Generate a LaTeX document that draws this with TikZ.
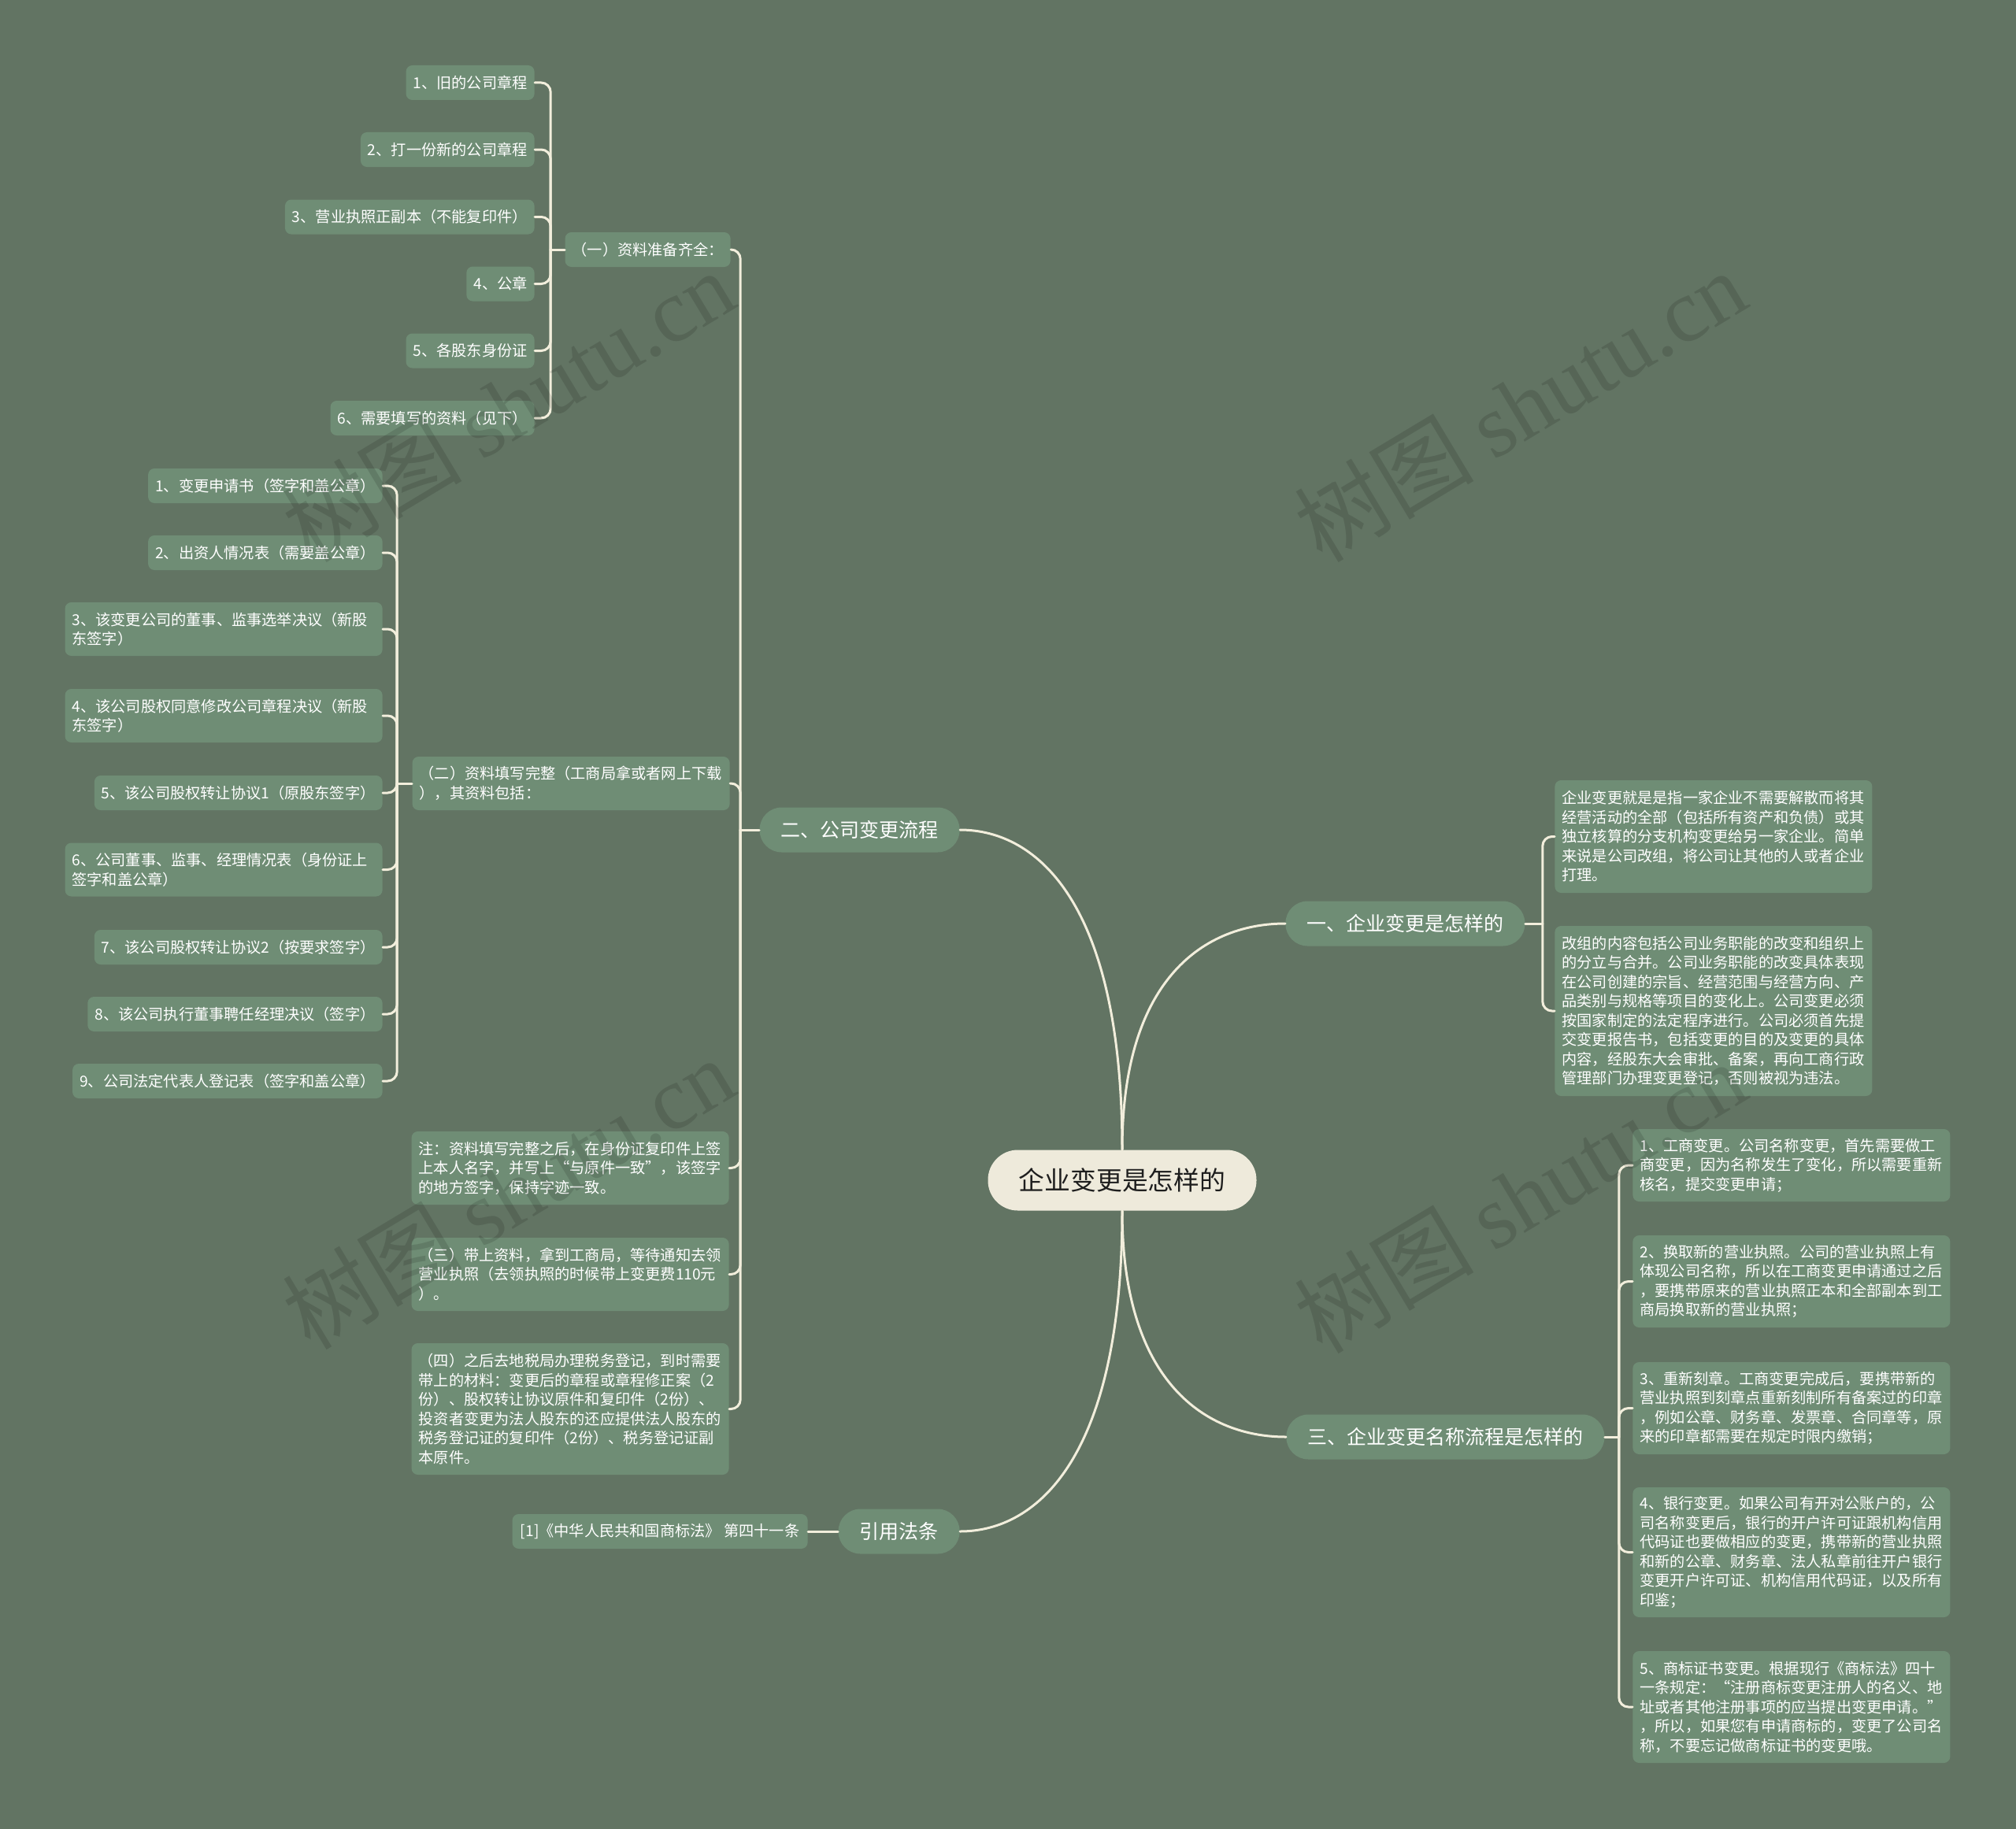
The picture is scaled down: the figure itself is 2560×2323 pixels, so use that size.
\documentclass[tikz,border=0pt]{standalone}
\usepackage{fontspec}
\setmainfont{Noto Sans CJK SC}
\newfontfamily\wmfont{Liberation Serif}
\setlength{\parindent}{0pt}
\definecolor{bgc}{HTML}{627463}
\definecolor{nodec}{HTML}{6F8D75}
\definecolor{linec}{HTML}{F2EEDC}
\definecolor{rootc}{HTML}{EEEADB}
\definecolor{roottext}{HTML}{1E1E1E}
\newcommand{\leaffont}{\fontsize{9.6pt}{12.25pt}\selectfont}
\tikzset{
  leaf/.style={fill=nodec, text=white, rounded corners=4pt, inner xsep=4.5pt, inner ysep=1pt, font=\leaffont, minimum height=22pt},
  para/.style={leaf, text width=192.5pt, align=left},
  branch/.style={fill=nodec, text=white, rounded corners=14pt, inner xsep=13.5pt, inner ysep=1pt, minimum height=28.5pt, font=\fontsize{12.5pt}{15pt}\selectfont},
  rootnode/.style={fill=rootc, text=roottext, rounded corners=19pt, minimum width=170.5pt, minimum height=38.5pt, font=\fontsize{16.4pt}{20pt}\selectfont},
  link/.style={draw=linec, line width=1.5pt, line cap=round},
  brk/.style={link, rounded corners=6pt},
  wm/.style={text=black, opacity=0.12, text opacity=0.12, rotate=31, inner sep=0pt, font=\fontsize{57pt}{57pt}\selectfont}
}
\begin{document}
\begin{tikzpicture}[x=0.5pt,y=-0.5pt]
\fill[bgc] (0,0) rectangle (2560,2323);
\useasboundingbox (0,0) rectangle (2560,2323);

% root and branches
\node[rootnode] (root) at (1425,1499) {企业变更是怎样的};
\node[branch, anchor=east] (b2) at (1219,1054) {二、公司变更流程};
\node[branch, anchor=west] (b1) at (1632,1173) {一、企业变更是怎样的};
\node[branch, anchor=west] (b3) at (1633,1825) {三、企业变更名称流程是怎样的};
\node[branch, anchor=east] (b4) at (1219,1945) {引用法条};
\node[leaf, anchor=east, minimum width=187.5pt] (law) at (1026,1945) {[1]《中华人民共和国商标法》 第四十一条};

% group (一)
\node[leaf, anchor=east] (g1) at (928,317) {（一）资料准备齐全：};
\node[leaf, anchor=east] (a1) at (679,105) {1、旧的公司章程};
\node[leaf, anchor=east] (a2) at (679,190) {2、打一份新的公司章程};
\node[leaf, anchor=east] (a3) at (679,275.5) {3、营业执照正副本（不能复印件）};
\node[leaf, anchor=east] (a4) at (679,360.5) {4、公章};
\node[leaf, anchor=east] (a5) at (679,445.5) {5、各股东身份证};
\node[leaf, anchor=east] (a6) at (679,531) {6、需要填写的资料（见下）};

% group (二)
\node[para, anchor=east, minimum height=34pt] (g2) at (927,995) {（二）资料填写完整（工商局拿或者网上下载\\），其资料包括：};
\node[leaf, anchor=east] (c1) at (486,617) {1、变更申请书（签字和盖公章）};
\node[leaf, anchor=east] (c2) at (486,702) {2、出资人情况表（需要盖公章）};
\node[para, anchor=east, minimum height=34pt] (c3) at (486,799) {3、该变更公司的董事、监事选举决议（新股\\东签字）};
\node[para, anchor=east, minimum height=34pt] (c4) at (486,909) {4、该公司股权同意修改公司章程决议（新股\\东签字）};
\node[leaf, anchor=east] (c5) at (486,1007) {5、该公司股权转让协议1（原股东签字）};
\node[para, anchor=east, minimum height=34pt] (c6) at (486,1104.5) {6、公司董事、监事、经理情况表（身份证上\\签字和盖公章）};
\node[leaf, anchor=east] (c7) at (486,1203) {7、该公司股权转让协议2（按要求签字）};
\node[leaf, anchor=east] (c8) at (486,1288) {8、该公司执行董事聘任经理决议（签字）};
\node[leaf, anchor=east] (c9) at (486,1373) {9、公司法定代表人登记表（签字和盖公章）};

% notes and steps
\node[para, anchor=east, minimum height=46.5pt] (note) at (926,1483.5) {注：资料填写完整之后，在身份证复印件上签\\上本人名字，并写上“与原件一致”，该签字\\的地方签字，保持字迹一致。};
\node[para, anchor=east, minimum height=46.5pt] (g3) at (926,1618.5) {（三）带上资料，拿到工商局，等待通知去领\\营业执照（去领执照的时候带上变更费110元\\）。};
\node[para, anchor=east, minimum height=83.5pt] (g4) at (926,1789.5) {（四）之后去地税局办理税务登记，到时需要\\带上的材料：变更后的章程或章程修正案（2\\份）、股权转让协议原件和复印件（2份）、\\投资者变更为法人股东的还应提供法人股东的\\税务登记证的复印件（2份）、税务登记证副\\本原件。};

% right group 一
\node[para, anchor=west, minimum height=71.5pt] (r1) at (1974,1062.5) {企业变更就是是指一家企业不需要解散而将其\\经营活动的全部（包括所有资产和负债）或其\\独立核算的分支机构变更给另一家企业。简单\\来说是公司改组，将公司让其他的人或者企业\\打理。};
\node[para, anchor=west, minimum height=108pt] (r2) at (1974,1284) {改组的内容包括公司业务职能的改变和组织上\\的分立与合并。公司业务职能的改变具体表现\\在公司创建的宗旨、经营范围与经营方向、产\\品类别与规格等项目的变化上。公司变更必须\\按国家制定的法定程序进行。公司必须首先提\\交变更报告书，包括变更的目的及变更的具体\\内容，经股东大会审批、备案，再向工商行政\\管理部门办理变更登记，否则被视为违法。};

% right group 三
\node[para, anchor=west, minimum height=46pt] (s1) at (2073,1480) {1、工商变更。公司名称变更，首先需要做工\\商变更，因为名称发生了变化，所以需要重新\\核名，提交变更申请；};
\node[para, anchor=west, minimum height=58.5pt] (s2) at (2073,1627.5) {2、换取新的营业执照。公司的营业执照上有\\体现公司名称，所以在工商变更申请通过之后\\，要携带原来的营业执照正本和全部副本到工\\商局换取新的营业执照；};
\node[para, anchor=west, minimum height=58.5pt] (s3) at (2073,1788.5) {3、重新刻章。工商变更完成后，要携带新的\\营业执照到刻章点重新刻制所有备案过的印章\\，例如公章、财务章、发票章、合同章等，原\\来的印章都需要在规定时限内缴销；};
\node[para, anchor=west, minimum height=82.5pt] (s4) at (2073,1971.5) {4、银行变更。如果公司有开对公账户的，公\\司名称变更后，银行的开户许可证跟机构信用\\代码证也要做相应的变更，携带新的营业执照\\和新的公章、财务章、法人私章前往开户银行\\变更开户许可证、机构信用代码证，以及所有\\印鉴；};
\node[para, anchor=west, minimum height=71pt] (s5) at (2073,2168) {5、商标证书变更。根据现行《商标法》四十\\一条规定：“注册商标变更注册人的名义、地\\址或者其他注册事项的应当提出变更申请。”\\，所以，如果您有申请商标的，变更了公司名\\称，不要忘记做商标证书的变更哦。};

% main connectors
\draw[link] (b2.east) .. controls +(100,0) and +(0,-310) .. (root.north);
\draw[link] (b1.west) .. controls +(-100,0) and +(0,-220) .. (root.north);
\draw[link] (b3.west) .. controls +(-100,0) and +(0,220) .. (root.south);
\draw[link] (b4.east) .. controls +(100,0) and +(0,310) .. (root.south);
\draw[link] (b4.west) -- (law.east);

% brackets
\draw[link] (b2.west) -- ++(-24,0) coordinate (jb2);
\foreach \n in {g1,g2,note,g3,g4} \draw[brk] (jb2) |- (\n.east);
\draw[link] (g1.west) -- ++(-18,0) coordinate (jg1);
\foreach \n in {a1,a2,a3,a4,a5,a6} \draw[brk] (jg1) |- (\n.east);
\draw[link] (g2.west) -- ++(-19,0) coordinate (jg2);
\foreach \n in {c1,c2,c3,c4,c5,c6,c7,c8,c9} \draw[brk] (jg2) |- (\n.east);
\draw[link] (b1.east) -- ++(22,0) coordinate (jb1);
\foreach \n in {r1,r2} \draw[brk] (jb1) |- (\n.west);
\draw[link] (b3.east) -- ++(18,0) coordinate (jb3);
\foreach \n in {s1,s2,s3,s4,s5} \draw[brk] (jb3) |- (\n.west);

% watermarks
\node[wm] (wm1) at (645,515) {树图 {\wmfont shutu.cn}};
\node[wm] (wm2) at (1930,515) {树图 {\wmfont shutu.cn}};
\node[wm] (wm3) at (645,1515) {树图 {\wmfont shutu.cn}};
\node[wm] (wm4) at (1930,1520) {树图 {\wmfont shutu.cn}};
\end{tikzpicture}
\end{document}
